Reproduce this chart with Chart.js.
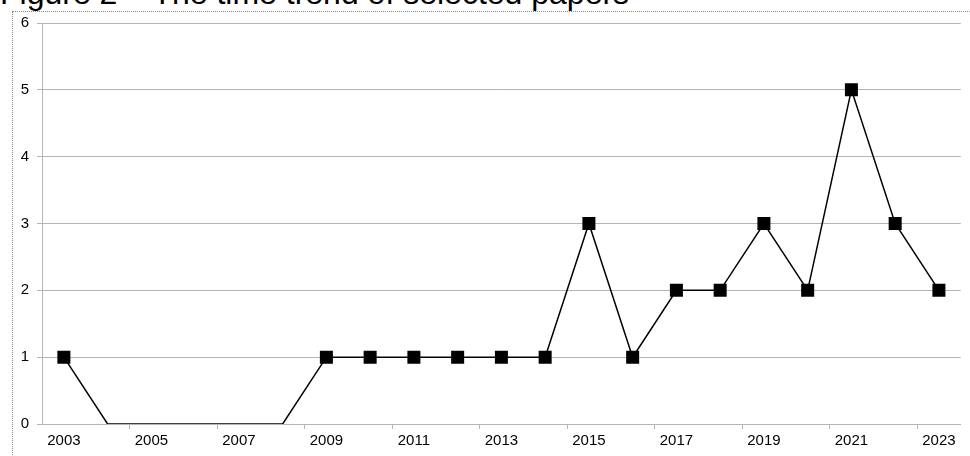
<!DOCTYPE html>
<html>
<head>
<meta charset="utf-8">
<script src="https://cdn.jsdelivr.net/npm/chart.js@4"></script>
<style>
  html, body { margin: 0; padding: 0; background: #fff; overflow: hidden; }
  #wrap { position: relative; width: 970px; height: 456px; }
  #title { position: absolute; left: 0; top: -23px; font-family: "Liberation Sans", Arial, sans-serif; font-size: 32px; color: #000; white-space: nowrap; line-height: 1; }
  #frame { position: absolute; left: 12px; top: 11px; width: 1000px; height: 500px; border: 1px dotted #888; box-sizing: border-box; }
  canvas { position: absolute; left: 0; top: 0; }
</style>
</head>
<body>
<div id="wrap">
  <div id="frame"></div>
  <div id="title">Figure 2 – The time trend of selected papers</div>
  <canvas id="c" width="970" height="456"></canvas>
</div>
<script>
const years = ['2003','2004','2005','2006','2007','2008','2009','2010','2011','2012','2013','2014','2015','2016','2017','2018','2019','2020','2021','2022','2023'];
const papers = [1,0,0,0,0,0,1,1,1,1,1,1,3,1,2,2,3,2,5,3,2];
const yTicks = [0,1,2,3,4,5,6];

const gridGray = '#b4b4b4';
const font = { family: '"Liberation Sans", Arial, sans-serif', size: 15 };

new Chart(document.getElementById('c'), {
  type: 'line',
  data: {
    labels: years,
    datasets: [{
      data: papers,
      borderColor: '#000',
      borderWidth: 1.5,
      backgroundColor: '#000',
      pointStyle: 'rect',
      pointRadius: papers.map(v => v === 0 ? 0 : 9.2),
      pointBorderWidth: 0,
      tension: 0,
      fill: false
    }]
  },
  options: {
    responsive: false,
    animation: false,
    events: [],
    layout: { padding: { top: 23, right: 7, left: 0, bottom: 0 } },
    plugins: { legend: { display: false }, tooltip: { enabled: false }, title: { display: false } },
    scales: {
      x: {
        offset: true,
        grid: {
          offset: true,
          drawOnChartArea: false,
          tickLength: 5,
          color: ctx => (ctx.index % 2 === 0 && ctx.index > 0) ? gridGray : 'rgba(0,0,0,0)'
        },
        border: { color: gridGray, width: 1 },
        ticks: {
          autoSkip: false,
          maxRotation: 0,
          color: '#000',
          font: font,
          padding: 3,
          callback: function(v, i) { return i % 2 === 0 ? years[i] : ''; }
        },
        afterFit: s => { s.height = 32; }
      },
      y: {
        min: 0, max: 6,
        afterBuildTicks: s => { s.ticks = yTicks.map(v => ({ value: v })); },
        grid: { color: gridGray, tickLength: 5 },
        border: { color: gridGray, width: 1 },
        ticks: { color: '#000', font: font, padding: 8 },
        afterFit: s => { s.width = 42; }
      }
    }
  }
});
</script>
</body>
</html>
